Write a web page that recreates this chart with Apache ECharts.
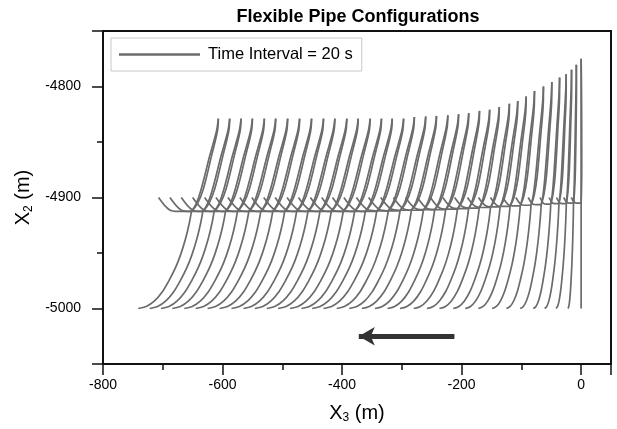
<!DOCTYPE html>
<html><head><meta charset="utf-8">
<script src="https://cdn.jsdelivr.net/npm/echarts@6/dist/echarts.min.js"></script>
<style>html,body{margin:0;padding:0;background:#fff}#c{width:617px;height:429px}</style>
</head><body><div id="c"></div>
<script>
// ---- data ----
const topX = [-607,-588,-569,-550,-530,-511,-491,-471,-451,-431,-412,-392,-373,-353,-334,-316,-297,
  -279,-260,-242,-223,-205,-188,-170,-153,-137,-120,-106,-92,-78,-63,-49,-36,-25,-16,-8,0];
const topY = [-4829,-4829,-4829,-4829,-4829,-4829,-4829,-4829,-4829,-4829,-4829,-4829,-4829,-4829,-4829,-4829,-4829,
  -4827.5,-4827,-4826.5,-4826,-4825,-4824,-4822,-4821,-4818.5,-4815.5,-4813,-4809,-4804,-4800,-4796,-4792,-4789,-4785,-4780.5,-4775];
const bottomX = [-741,-722,-703,-684,-664,-645,-625,-605,-585,-565,-546,-526,-507,-487,-468,-450,-431,
  -409,-388,-367,-345,-324,-303,-280,-258,-237,-214,-194,-172,-149,-125,-102,-80,-61,-42,-22,0];
const junctionY = [-4912.5,-4912.5,-4912.5,-4912.5,-4912.5,-4912.5,-4912.5,-4912.5,-4912.5,-4912.5,-4912.5,-4912.5,-4912.5,-4912.5,-4912.5,-4912.5,-4912.5,
  -4912,-4912,-4911.5,-4911.5,-4911,-4911,-4910.5,-4910,-4909.5,-4909,-4908.5,-4908,-4907.5,-4907,-4906.5,-4906,-4905.5,-4905.5,-4905,-4905];
const seabedY = -5000;
const hookTopY = -4900;
// shape of the steady configuration (leftmost curve), normalised
const lowerU = [0, 0.15, 0.3, 0.45, 0.58, 0.7, 0.8, 0.89, 0.96, 1];
const lowerV = [0, 0.02, 0.075, 0.17, 0.29, 0.42, 0.56, 0.72, 0.88, 1];
const upperU = [0, 0.18, 0.364, 0.682, 0.932, 1];
const upperV = [0, 0.084, 0.241, 0.602, 0.867, 1];
const loopGap = [0, 2, 3.5, 3, 1.5, 0];
const hookDX = [0, -22, -37, -55];
const hookV = [0, 0, 0.12, 1];
const steadyLower = 89, steadyOffset = 134;
const arrowFrom = [-212, -5025];
const arrowTo = [-372, -5025];
const legendName = 'Time Interval = 20 s';

// ---- build series ----
const lineStyle = {color: '#6b6b6b', width: 1.7};
const series = [];
function addSeg(pts) {
  series.push({type: 'line', name: legendName, data: pts, symbol: 'none', showSymbol: false, smooth: 0.35,
    lineStyle: lineStyle, itemStyle: {color: '#6b6b6b'}, silent: true, animation: false});
}
for (let k = 0; k < topX.length; k++) {
  const off = topX[k] - bottomX[k];
  const L = off * steadyLower / steadyOffset;
  const U = off - L;
  const jx = bottomX[k] + L, jy = junctionY[k];
  addSeg(lowerU.map((u, i) => [bottomX[k] + u * L, seabedY + lowerV[i] * (jy - seabedY)]));
  const H = topY[k] - jy;
  const g = Math.min(1, off / steadyOffset + 0.3);
  addSeg(upperU.map((u, i) => [jx + u * U, jy + upperV[i] * H]));
  addSeg(upperU.map((u, i) => [jx + u * U + loopGap[i] * g, jy + upperV[i] * H]));
  const s = Math.max(off / steadyOffset, 0.3);
  addSeg(hookDX.map((d, i) => [jx + d * s, jy + hookV[i] * (hookTopY - jy)]));
}
series.push({type: 'line', name: 'arrow', data: [], silent: true, animation: false,
  markLine: {silent: true, animation: false, symbol: ['none', 'arrow'], symbolSize: [14, 16],
    label: {show: false}, lineStyle: {color: '#333', width: 5, type: 'solid'},
    data: [[{coord: arrowFrom}, {coord: arrowTo}]]}});

const chart = echarts.init(document.getElementById('c'), null, {renderer: 'canvas'});
const ff = '"Liberation Sans", Arial, sans-serif';
const nameRich = {a: {fontFamily: ff, fontSize: 20, color: '#000'},
  b: {fontFamily: ff, fontSize: 12, color: '#000', verticalAlign: 'bottom', padding: [10, 0, 0, 0]}};
chart.setOption({
  animation: false,
  backgroundColor: '#fff',
  title: {text: 'Flexible Pipe Configurations', left: 353, textAlign: 'center', top: 3,
    textStyle: {fontFamily: ff, fontSize: 18, fontWeight: 'bold', color: '#000'}},
  legend: {data: [{name: legendName, icon: 'path://M0,0 H100 V3 H0 Z'}], left: 111, top: 38, orient: 'vertical',
    backgroundColor: '#fff', borderColor: '#c8c8c8', borderWidth: 1, borderRadius: 0,
    padding: [8, 9, 8, 8], itemWidth: 81, itemHeight: 2.5,
    itemStyle: {color: '#6b6b6b'},
    textStyle: {fontFamily: ff, fontSize: 16.5, color: '#000', padding: [0, 0, 0, 3], lineHeight: 17}},
  grid: {left: 103, right: 6, top: 31, bottom: 65, show: true, borderColor: '#111', borderWidth: 2, backgroundColor: 'transparent'},
  xAxis: {type: 'value', min: -800, max: 50, interval: 200,
    axisLine: {show: true, onZero: false, lineStyle: {color: '#111', width: 2}},
    axisTick: {show: true, inside: false, length: 11, lineStyle: {color: '#111', width: 1.5}},
    minorTick: {show: true, splitNumber: 2, length: 6, lineStyle: {color: '#111', width: 1.5}},
    splitLine: {show: false}, minorSplitLine: {show: false},
    axisLabel: {fontFamily: ff, fontSize: 14, color: '#000', margin: 14, showMaxLabel: false, formatter: v => String(v)},
    name: '{a|X}{b|3}{a| (m)}', nameLocation: 'middle', nameGap: 38,
    nameTextStyle: {rich: nameRich}},
  yAxis: {type: 'value', min: -5050, max: -4750, splitNumber: 3,
    axisLine: {show: true, onZero: false, lineStyle: {color: '#111', width: 2}},
    axisTick: {show: true, inside: false, length: 11, lineStyle: {color: '#111', width: 1.5}},
    minorTick: {show: true, splitNumber: 2, length: 6, lineStyle: {color: '#111', width: 1.5}},
    splitLine: {show: false}, minorSplitLine: {show: false},
    axisLabel: {fontFamily: ff, fontSize: 14, color: '#000', margin: 22, showMinLabel: false, showMaxLabel: false, formatter: v => String(v)},
    name: '{a|X}{b|2}{a| (m)}', nameLocation: 'middle', nameGap: 68, nameRotate: 90,
    nameTextStyle: {rich: nameRich}},
  series: series
});
</script></body></html>
